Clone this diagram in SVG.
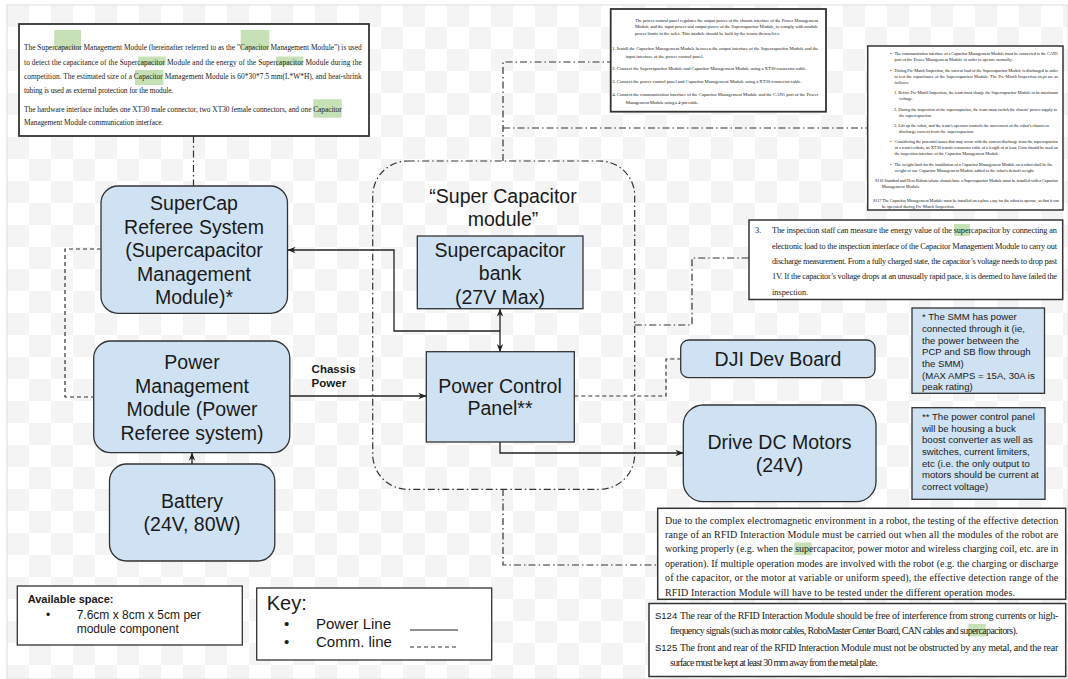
<svg xmlns="http://www.w3.org/2000/svg" width="1068" height="679" viewBox="0 0 1068 679">
<defs>
<pattern id="chk" width="44" height="44" patternUnits="userSpaceOnUse" x="7" y="5"><rect width="44" height="44" fill="#fff"/><rect width="22" height="22" fill="#f4f4f4"/><rect x="22" y="22" width="22" height="22" fill="#f4f4f4"/></pattern>
<marker id="arr" viewBox="0 0 10 10" refX="9.5" refY="5" markerWidth="8" markerHeight="8" orient="auto-start-reverse" markerUnits="userSpaceOnUse"><path d="M0,1 L10,5 L0,9 L3,5 z" fill="#222"/></marker>
<style>
.node{fill:#cfe2f3;stroke:#333;stroke-width:1.3}
.lbl{font-family:"Liberation Sans",Arial,sans-serif;font-size:19.5px;fill:#1a1a1a;text-anchor:middle}
.doc{fill:#fff;stroke:#333;stroke-width:1.5}
.ser{font-family:"Liberation Serif","Times New Roman",serif;fill:#222}
.san{font-family:"Liberation Sans",Arial,sans-serif;fill:#1a1a1a}
.hl{fill:#c5e1b5}
.power{fill:none;stroke:#222;stroke-width:1.3}
.comm{fill:none;stroke:#333;stroke-width:1.2;stroke-dasharray:4 3}
.dd{fill:none;stroke:#333;stroke-width:1.2;stroke-dasharray:7 3 1.5 3}
.t5{font-size:4.7px}
.t4{font-size:4.4px}
.note{font-family:"Liberation Sans",Arial,sans-serif;font-size:9.6px;fill:#1a1a1a}
</style>
</defs>
<rect width="1068" height="679" fill="#fff"/>
<rect x="7" y="5" width="1061" height="674" fill="url(#chk)" stroke="#dcdcdc" stroke-width="1"/>

<g id="connectors">
<path class="dd" d="M193.5,136 V186"/>
<path class="dd" d="M503,161 V62 H610.7"/>
<path class="dd" d="M503,128 H867.7"/>
<path class="dd" d="M634.7,325 H692 V258 H749"/>
<path class="dd" d="M503,489 V565 H657.7"/>
<path class="comm" d="M101,249 H65 V397 H94"/>
<path class="power" d="M290,396 H426" marker-end="url(#arr)"/>
<path class="power" d="M192,464 V453" marker-end="url(#arr)"/>
<path class="power" d="M500,331 H394 V250 H288" marker-end="url(#arr)"/>
<path class="power" d="M500,309 V351.7" marker-start="url(#arr)" marker-end="url(#arr)"/>
<path class="comm" d="M574.3,396 H666 V359 H681"/>
<path class="power" d="M500,442 V453 H683" marker-end="url(#arr)"/>
<text class="san" x="311.6" y="372.7" font-size="11.5" font-weight="bold">Chassis</text>
<text class="san" x="311.6" y="387" font-size="11.5" font-weight="bold">Power</text>
</g>

<g id="module">
<rect class="dd" x="372.7" y="161" width="262" height="328.3" rx="35"/>
<text class="lbl" x="503" y="203">“Super Capacitor</text>
<text class="lbl" x="503" y="226">module”</text>
</g>

<g id="doc-smm">
<rect x="19" y="24" width="350" height="112" fill="#fff" stroke="#333" stroke-width="1.8"/>
<rect class="hl" x="54.3" y="30" width="26.7" height="19.3"/>
<rect class="hl" x="240.7" y="30" width="28.6" height="19.3"/>
<rect class="hl" x="138.3" y="56.5" width="27.4" height="9"/>
<rect class="hl" x="276" y="56.5" width="27.3" height="9"/>
<rect class="hl" x="135" y="70" width="28.3" height="15"/>
<rect class="hl" x="313.3" y="99.3" width="28.4" height="18.4"/>
<g class="ser" font-size="7.4">
<text x="24" y="49.9" textLength="337.7" lengthAdjust="spacing">The Supercapacitor Management Module (hereinafter referred to as the "Capacitor Management Module") is used</text>
<text x="24" y="64.6" textLength="337.7" lengthAdjust="spacing">to detect the capacitance of the Supercapacitor Module and the energy of the Supercapacitor Module during the</text>
<text x="24" y="78.6" textLength="337.7" lengthAdjust="spacing">competition. The estimated size of a Capacitor Management Module is 60*30*7.5 mm(L*W*H), and heat-shrink</text>
<text x="24" y="92.6" textLength="149.3" lengthAdjust="spacing">tubing is used as external protection for the module.</text>
<text x="24" y="111.6" textLength="317.7" lengthAdjust="spacing">The hardware interface includes one XT30 male connector, two XT30 female connectors, and one Capacitor</text>
<text x="24" y="124.9" textLength="139.3" lengthAdjust="spacing">Management Module communication interface.</text>
</g>
</g>

<g id="doc-pcp">
<rect x="610.7" y="9" width="215.3" height="102.7" fill="#fff" stroke="#333" stroke-width="1.8"/>
<g class="ser t5">
<text x="635" y="22.1" textLength="183" lengthAdjust="spacing">The power control panel regulates the output power of the chassis interface of the Power Management</text>
<text x="635" y="28.1" textLength="183" lengthAdjust="spacing">Module and the input power and output power of the Supercapacitor Module, to comply with module</text>
<text x="635" y="34.6" textLength="145" lengthAdjust="spacing">power limits in the rules. This module should be built by the teams themselves.</text>
<text x="612.3" y="50.3" textLength="206" lengthAdjust="spacing">1. Install the Capacitor Management Module between the output interface of the Supercapacitor Module and the</text>
<text x="625.7" y="58.3" textLength="78" lengthAdjust="spacing">input interface of the power control panel.</text>
<text x="612.3" y="69.6" textLength="194.4" lengthAdjust="spacing">2. Connect the Supercapacitor Module and Capacitor Management Module using a XT30-connector cable.</text>
<text x="612.3" y="82.9" textLength="189.4" lengthAdjust="spacing">3. Connect the power control panel and Capacitor Management Module using a XT30-connector cable.</text>
<text x="612.3" y="95.9" textLength="206" lengthAdjust="spacing">4. Connect the communication interface of the Capacitor Management Module and the CAN1 port of the Power</text>
<text x="625.7" y="104.3" textLength="73" lengthAdjust="spacing">Management Module using a 4-pin cable.</text>
</g>
</g>

<g id="doc-rules">
<rect class="doc" x="867.7" y="46" width="195.3" height="164"/>
<g class="ser t4">
<text x="890" y="55.1">•</text>
<text x="894.5" y="55.1" textLength="163.5" lengthAdjust="spacing">The communication interface of a Capacitor Management Module must be connected to the CAN1</text>
<text x="894.5" y="61.1" textLength="118" lengthAdjust="spacing">port of the Power Management Module in order to operate normally.</text>
<text x="890" y="71.7">•</text>
<text x="894.5" y="71.7" textLength="163.5" lengthAdjust="spacing">During Pre-Match Inspection, the current load of the Supercapacitor Module is discharged in order</text>
<text x="894.5" y="77.8" textLength="163.5" lengthAdjust="spacing">to test the capacitance of the Supercapacitor Module. The Pre-Match Inspection steps are as</text>
<text x="894.5" y="83.8">follows:</text>
<text x="894" y="94.1" textLength="164" lengthAdjust="spacing">1. Before Pre-Match Inspection, the team must charge the Supercapacitor Module to its maximum</text>
<text x="899" y="100.1">voltage.</text>
<text x="894" y="111.1" textLength="163" lengthAdjust="spacing">2. During the inspection of the supercapacitor, the team must switch the chassis' power supply to</text>
<text x="899" y="117.1">the supercapacitor.</text>
<text x="894" y="127.4" textLength="155" lengthAdjust="spacing">3. Lift up the robot, and the team's operator controls the movement of the robot's chassis to</text>
<text x="899" y="133.1" textLength="75" lengthAdjust="spacing">discharge current from the supercapacitor.</text>
<text x="890" y="143">•</text>
<text x="894.5" y="143" textLength="163.5" lengthAdjust="spacing">Considering the potential issues that may occur with the current discharge from the supercapacitor</text>
<text x="894.5" y="149" textLength="163.5" lengthAdjust="spacing">of a team's robots, an XT30 female-connector cable of a length of at least 15cm should be used on</text>
<text x="894.5" y="155.1" textLength="105" lengthAdjust="spacing">the inspection interface of the Capacitor Management Module.</text>
<text x="890" y="165.7">•</text>
<text x="894.5" y="165.7" textLength="158" lengthAdjust="spacing">The weight limit for the installation of a Capacitor Management Module on a robot shall be the</text>
<text x="894.5" y="171.7" textLength="140" lengthAdjust="spacing">weight of one Capacitor Management Module added to the robot's default weight.</text>
<text x="875" y="182.4" textLength="183" lengthAdjust="spacing">S116 Standard and Hero Robots whose chassis have a Supercapacitor Module must be installed with a Capacitor</text>
<text x="881.7" y="188.4">Management Module.</text>
<text x="873" y="201.6" textLength="186" lengthAdjust="spacing">S117 The Capacitor Management Module must be installed on a place easy for the robot to operate, so that it can</text>
<text x="881.7" y="208.3">be operated during Pre-Match Inspection.</text>
</g>
</g>

<g id="doc-inspection">
<rect class="doc" x="749" y="220" width="313.7" height="79.5"/>
<rect class="hl" x="954" y="224" width="16" height="12"/>
<g class="ser" font-size="8.3">
<text x="755" y="233">3.</text>
<text x="772" y="233" textLength="285" lengthAdjust="spacing">The inspection staff can measure the energy value of the supercapacitor by connecting an</text>
<text x="772" y="248.5" textLength="285" lengthAdjust="spacing">electronic load to the inspection interface of the Capacitor Management Module to carry out</text>
<text x="772" y="264" textLength="285" lengthAdjust="spacing">discharge measurement. From a fully charged state, the capacitor’s voltage needs to drop past</text>
<text x="772" y="279.3" textLength="285" lengthAdjust="spacing">1V. If the capacitor’s voltage drops at an unusually rapid pace, it is deemed to have failed the</text>
<text x="772" y="294.5">inspection.</text>
</g>
</g>

<g id="doc-rfid">
<rect class="doc" x="657.7" y="508.3" width="408" height="91"/>
<rect class="hl" x="794.3" y="542.5" width="17.4" height="12.5"/>
<g class="ser" font-size="10">
<text x="665" y="523.5" textLength="393.3" lengthAdjust="spacing">Due to the complex electromagnetic environment in a robot, the testing of the effective detection</text>
<text x="665" y="537.8" textLength="393.3" lengthAdjust="spacing">range of an RFID Interaction Module must be carried out when all the modules of the robot are</text>
<text x="665" y="552.2" textLength="393.3" lengthAdjust="spacing">working properly (e.g. when the supercapacitor, power motor and wireless charging coil, etc. are in</text>
<text x="665" y="566.8" textLength="393.3" lengthAdjust="spacing">operation). If multiple operation modes are involved with the robot (e.g. the charging or discharge</text>
<text x="665" y="581.2" textLength="393.3" lengthAdjust="spacing">of the capacitor, or the motor at variable or uniform speed), the effective detection range of the</text>
<text x="665" y="595.8" textLength="350" lengthAdjust="spacing">RFID Interaction Module will have to be tested under the different operation modes.</text>
</g>
</g>

<g id="doc-s124">
<rect class="doc" x="649" y="603.5" width="416.7" height="73"/>
<rect class="hl" x="968.3" y="624" width="17.4" height="12.5"/>
<text class="san" x="655" y="619" font-size="9.5">S124</text>
<text class="san" x="655" y="650.5" font-size="9.5">S125</text>
<g class="ser" font-size="10">
<text x="680" y="619" textLength="378.3" lengthAdjust="spacing">The rear of the RFID Interaction Module should be free of interference from strong currents or high-</text>
<text x="670" y="634" textLength="347.7" lengthAdjust="spacing">frequency signals (such as motor cables, RoboMaster Center Board, CAN cables and supercapacitors).</text>
<text x="680" y="650.5" textLength="378.3" lengthAdjust="spacing">The front and rear of the RFID Interaction Module must not be obstructed by any metal, and the rear</text>
<text x="670" y="665.5" textLength="207.7" lengthAdjust="spacing">surface must be kept at least 30 mm away from the metal plate.</text>
</g>
</g>

<g id="supercap-referee">
<rect class="node" x="101" y="186" width="186.5" height="127.3" rx="17"/>
<text class="lbl" x="194" y="210.3">SuperCap</text>
<text class="lbl" x="194" y="233.8">Referee System</text>
<text class="lbl" x="194" y="257.3">(Supercapacitor</text>
<text class="lbl" x="194" y="280.8">Management</text>
<text class="lbl" x="194" y="304.3">Module)*</text>
</g>

<g id="power-management">
<rect class="node" x="93.7" y="341" width="196.1" height="111.7" rx="17"/>
<text class="lbl" x="192" y="369">Power</text>
<text class="lbl" x="192" y="392.5">Management</text>
<text class="lbl" x="192" y="416">Module (Power</text>
<text class="lbl" x="192" y="439.5">Referee system)</text>
</g>

<g id="battery">
<rect class="node" x="109.5" y="464" width="165.3" height="97" rx="17"/>
<text class="lbl" x="192" y="507.7">Battery</text>
<text class="lbl" x="192" y="531">(24V, 80W)</text>
</g>

<g id="supercap-bank">
<rect class="node" x="417.3" y="236" width="165.7" height="72.7"/>
<text class="lbl" x="500" y="256.5">Supercapacitor</text>
<text class="lbl" x="500" y="280">bank</text>
<text class="lbl" x="500" y="303.5">(27V Max)</text>
</g>

<g id="power-control-panel">
<rect class="node" x="426.3" y="351.7" width="148" height="90.3"/>
<text class="lbl" x="500" y="392.7">Power Control</text>
<text class="lbl" x="500" y="415.3">Panel**</text>
</g>

<g id="dji-dev-board">
<rect class="node" x="680.7" y="340" width="194.3" height="37.7" rx="8"/>
<text class="lbl" x="778" y="366.3">DJI Dev Board</text>
</g>

<g id="drive-motors">
<rect class="node" x="683.3" y="405" width="192.7" height="96.7" rx="20"/>
<text class="lbl" x="779.5" y="448.7">Drive DC Motors</text>
<text class="lbl" x="779.5" y="472.2">(24V)</text>
</g>

<g id="note-smm">
<rect class="node" x="912" y="308" width="132.5" height="85.3"/>
<text class="note" x="922" y="320.1">* The SMM has power</text>
<text class="note" x="922" y="331.8">connected through it (ie,</text>
<text class="note" x="922" y="343.5">the power between the</text>
<text class="note" x="922" y="355.1">PCP and SB flow through</text>
<text class="note" x="922" y="366.8">the SMM)</text>
<text class="note" x="922" y="378.5">(MAX AMPS = 15A, 30A is</text>
<text class="note" x="922" y="390.1">peak rating)</text>
</g>

<g id="note-pcp">
<rect class="node" x="912" y="407.7" width="133" height="91.6"/>
<text class="note" x="922" y="420.4">** The power control panel</text>
<text class="note" x="922" y="432.1">will be housing a buck</text>
<text class="note" x="922" y="443.4">boost converter as well as</text>
<text class="note" x="922" y="455.1">switches, current limiters,</text>
<text class="note" x="922" y="466.7">etc (i.e. the only output to</text>
<text class="note" x="922" y="478.4">motors should be current at</text>
<text class="note" x="922" y="490.4">correct voltage)</text>
</g>

<g id="available-space">
<rect x="17.3" y="586" width="225" height="59" fill="#fff" stroke="#333" stroke-width="1.3"/>
<text class="san" x="27.7" y="603.3" font-size="11" font-weight="bold">Available space:</text>
<text class="san" x="46" y="619.3" font-size="12">•</text>
<text class="san" x="76.7" y="619.3" font-size="12">7.6cm x 8cm x 5cm per</text>
<text class="san" x="76.7" y="632.6" font-size="12">module component</text>
</g>

<g id="key">
<rect x="256.7" y="588" width="235" height="72" fill="#fff" stroke="#333" stroke-width="1.3"/>
<text class="san" x="266.7" y="610" font-size="20">Key:</text>
<text class="san" x="284" y="629.4" font-size="15">•</text>
<text class="san" x="316" y="629.4" font-size="15">Power Line</text>
<text class="san" x="284" y="647" font-size="15">•</text>
<text class="san" x="316" y="647" font-size="15">Comm. line</text>
<path d="M410,630 H458" stroke="#222" stroke-width="1.2"/>
<path d="M410,647 H458" class="comm"/>
</g>
</svg>
